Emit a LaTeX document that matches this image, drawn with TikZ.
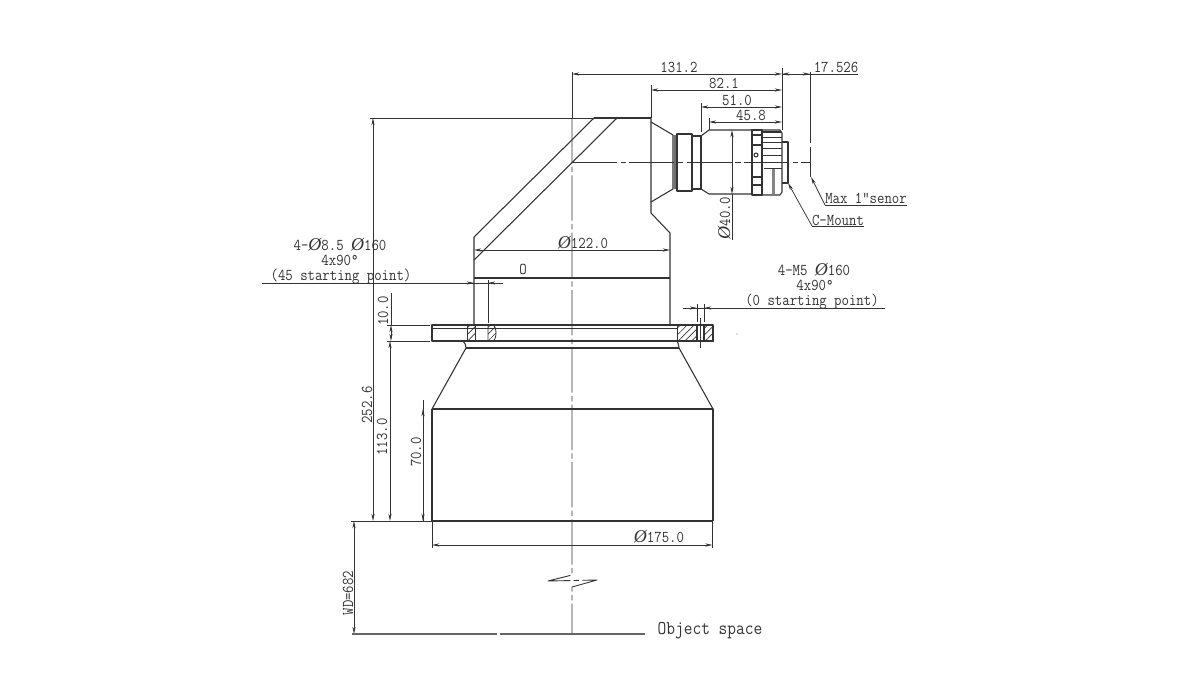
\documentclass[tikz,border=0pt]{standalone}
\usepackage{amsmath}
\usepackage{fontspec}
\setmonofont{Latin Modern Mono}[FakeStretch=0.87]
\newfontfamily\diafont{Liberation Serif}
\newcommand{\diasign}{\smash{{\diafont\itshape\fontsize{13.5}{13.5}\selectfont Ø}}}
\usetikzlibrary{arrows.meta,patterns.meta}
\colorlet{inkcol}{black!80}
\tikzset{
	partline/.style={line width=0.8pt,color=inkcol},
	heavyline/.style={line width=1.15pt,color=inkcol},
	thinline/.style={line width=0.55pt,color=inkcol},
	dimline/.style={line width=0.55pt,color=inkcol,{Stealth[length=5.5pt,width=2.4pt]}-{Stealth[length=5.5pt,width=2.4pt]}},
	tipin/.style={thinline,-{Stealth[length=5.5pt,width=2.4pt]}},
	centreline/.style={line width=0.65pt,color=inkcol,dash pattern=on 34pt off 2.5pt on 4pt off 2.5pt},
	hatched/.style={pattern={Lines[angle=45,distance=3.6pt,line width=0.5pt]},pattern color=inkcol,draw=inkcol,line width=0.6pt},
	dimtext/.style={font=\fontsize{12.4}{14}\ttfamily,text=inkcol,inner sep=0pt},
	bigtext/.style={font=\fontsize{14.6}{16}\ttfamily,text=inkcol,inner sep=0pt}
}
\begin{document}
\begin{tikzpicture}[line cap=butt,line join=round,x=0.75pt,y=-0.75pt]
	\useasboundingbox (0,0) rectangle (1200,700);
	\fill[white] (0,0) rectangle (1200,700);
	% centre lines
	\draw [thinline] (572,72) -- (572,118);
	\draw [centreline] (572,118) -- (572,575) -- (548,581) -- (597,580) -- (572,587) -- (572,634);
	\draw [centreline] (572,162) -- (811,162);
	% elbow housing
	\draw [partline] (651,213) -- (651,118) -- (594,118) -- (474,237) -- (474,326);
	\draw [partline] (651,213) -- (670,233) -- (670,326);
	\draw [heavyline] (594,118) -- (651,118);
	\draw [partline] (617,118) -- (474,260);
	\draw [partline] (474,278) -- (670,278);
	\node [dimtext] (rmark) at (523,269) {O};
	% camera lens
	\draw [partline] (651,122) -- (673,135) -- (673,189) -- (651,202);
	\draw [line width=1.5pt,color=inkcol!70] (675,135) -- (675,189);
	\draw [partline] (677,134) rectangle (692,191);
	\draw [partline] (692,136) rectangle (701,189);
	\draw [partline] (701,136) -- (709,130) -- (752,130) -- (752,194) -- (709,194) -- (701,189);
	\draw [partline] (752,130) rectangle (762,195);
	\draw [partline] (762,130) -- (780,130) -- (782,133) -- (782,192) -- (780,195) -- (762,195) -- cycle;
	\foreach \ky in {135,145,177,185}
		\draw [partline] (752,\ky) -- (762,\ky);
	\foreach \ky in {137,142,148,155,162}
		\draw [thinline] (763,\ky) -- (782,\ky);
	\draw [line width=1.4pt,color=inkcol] (762,130) -- (762,195);
	\draw [line width=1.6pt,color=inkcol] (763,132) -- (781,132);
	\draw [line width=1.6pt,color=inkcol!60] (773.5,169) -- (773.5,194);
	\draw [thinline] (764,168) -- (782,168);
	\draw [line width=0.8pt,color=inkcol] (756,155) circle (2);
	\draw [partline] (782,142) -- (788,142) -- (788,183) -- (782,183);
	% flange and lower barrel
	\draw [partline] (432,325) rectangle (713,341);
	\draw [heavyline] (432,325.5) -- (713,325.5);
	\draw [thinline] (432,328) -- (677,328);
	\draw [heavyline] (432,341) -- (677,341);
	\draw [hatched] (467,325) rectangle (475,341);
	\draw [hatched] (488,325) -- (493,325) .. controls (497,327) and (497,339) .. (493,341) -- (488,341) -- cycle;
	\draw [hatched] (677,325) rectangle (697,341);
	\draw [hatched] (704,325) rectangle (713,341);
	\draw [partline] (697,325) rectangle (704,341);
	\draw [partline] (466,348) -- (679,348);
	\draw [partline] (463,341) .. controls (465,343) and (466,345) .. (466,348) -- (432,409);
	\draw [partline] (677,341) .. controls (678,343) and (679,345) .. (679,348) -- (713,409);
	\draw [partline] (432,409) -- (713,409) -- (713,521);
	\draw [partline] (432,409) -- (432,521);
	\draw [heavyline] (432,521) -- (713,521);
	\fill [inkcol!70] (737,334) circle (0.7);
	% top dimensions
	\draw [thinline] (782,68) -- (782,130);
	\draw [thinline] (810,72) -- (810,143);
	\draw [thinline] (810,147) -- (810,177);
	\draw [thinline] (651,85) -- (651,118);
	\draw [thinline] (701,103) -- (701,132);
	\draw [thinline] (709,118) -- (709,130);
	\draw [dimline] (572,74) -- (782,74);
	\draw [dimline] (651,90) -- (782,90);
	\draw [dimline] (701,107) -- (782,107);
	\draw [dimline] (709,122) -- (782,122);
	\draw [thinline] (782,74) -- (858,74);
	\draw [tipin] (792,74) -- (782,74);
	\draw [tipin] (800,74) -- (810,74);
	\node [dimtext] (lenA) at (679,67) {131.2};
	\node [dimtext] (lenB) at (724,83) {82.1};
	\node [dimtext] (lenC) at (737,100) {51.0};
	\node [dimtext] (lenD) at (751,115) {45.8};
	\node [dimtext] (lenE) at (836,67) {17.526};
	\draw [dimline] (732,130) -- (732,194);
	\draw [thinline] (732,194) -- (732,240);
	\node [dimtext,rotate=90] (diaA) at (725,218) {\diasign40.0};
	% leaders
	\draw [tipin] (825,205) -- (811,177);
	\draw [thinline] (825,205) -- (907,205);
	\node [dimtext] (sensor) at (866,198) {Max 1"senor};
	\draw [tipin] (812,226) -- (788,183);
	\draw [thinline] (812,226) -- (864,226);
	\node [dimtext] (cmount) at (838,220) {C-Mount};
	% housing width
	\draw [dimline] (474,250) -- (670,250);
	\node [dimtext] (diaB) at (583,243) {\diasign122.0};
	% left hole callout
	\draw [thinline] (262,283) -- (503,283);
	\draw [tipin] (464,283) -- (474,283);
	\draw [tipin] (498,283) -- (488,283);
	\draw [thinline] (488,280) -- (488,323);
	\node [dimtext] (holeA) at (340,245) {4-\diasign8.5 \diasign160};
	\node [dimtext] (holeB) at (340,260.5) {4x90°};
	\node [dimtext] (holeC) at (341,277) {(45 starting point)};
	% right hole callout
	\draw [thinline] (683,308) -- (885,308);
	\draw [tipin] (687,308) -- (697,308);
	\draw [tipin] (714,308) -- (704,308);
	\draw [thinline] (697,304) -- (697,322);
	\draw [thinline] (704,304) -- (704,322);
	\draw [thinline] (700.5,318) -- (700.5,348);
	\node [dimtext] (holeD) at (814,270) {4-M5 \diasign160};
	\node [dimtext] (holeE) at (815,285.5) {4x90°};
	\node [dimtext] (holeF) at (812,302) {(0 starting point)};
	% height dimensions
	\draw [thinline] (370,118) -- (594,118);
	\draw [dimline] (373,118) -- (373,521);
	\node [dimtext,rotate=90] (hgtA) at (367,405) {252.6};
	\draw [thinline] (387,325) -- (430,325);
	\draw [thinline] (387,341) -- (430,341);
	\draw [dimline] (391,325) -- (391,341);
	\draw [thinline] (391,293) -- (391,325);
	\node [dimtext,rotate=90] (hgtB) at (383,311) {10.0};
	\draw [dimline] (390,341) -- (390,521);
	\node [dimtext,rotate=90] (hgtC) at (382,437) {113.0};
	\draw [thinline] (423,400) -- (423,521);
	\draw [dimline] (423,409) -- (423,521);
	\node [dimtext,rotate=90] (hgtD) at (416,452) {70.0};
	% bottom dimensions
	\draw [thinline] (432,521) -- (432,548);
	\draw [thinline] (712.5,521) -- (712.5,548);
	\draw [dimline] (432,545) -- (712.5,545);
	\node [dimtext] (diaC) at (659,537) {\diasign175.0};
	\draw [thinline] (351,521) -- (432,521);
	\draw [dimline] (354,521) -- (354,634);
	\node [dimtext,rotate=90] (wdist) at (348,593) {WD=682};
	\draw [line width=0.9pt,color=inkcol!75] (352,634) -- (497,634);
	\draw [line width=0.9pt,color=inkcol!75] (500,634) -- (645,634);
	\node [bigtext] (objsp) at (710,631) {Object space};
\end{tikzpicture}
\end{document}
